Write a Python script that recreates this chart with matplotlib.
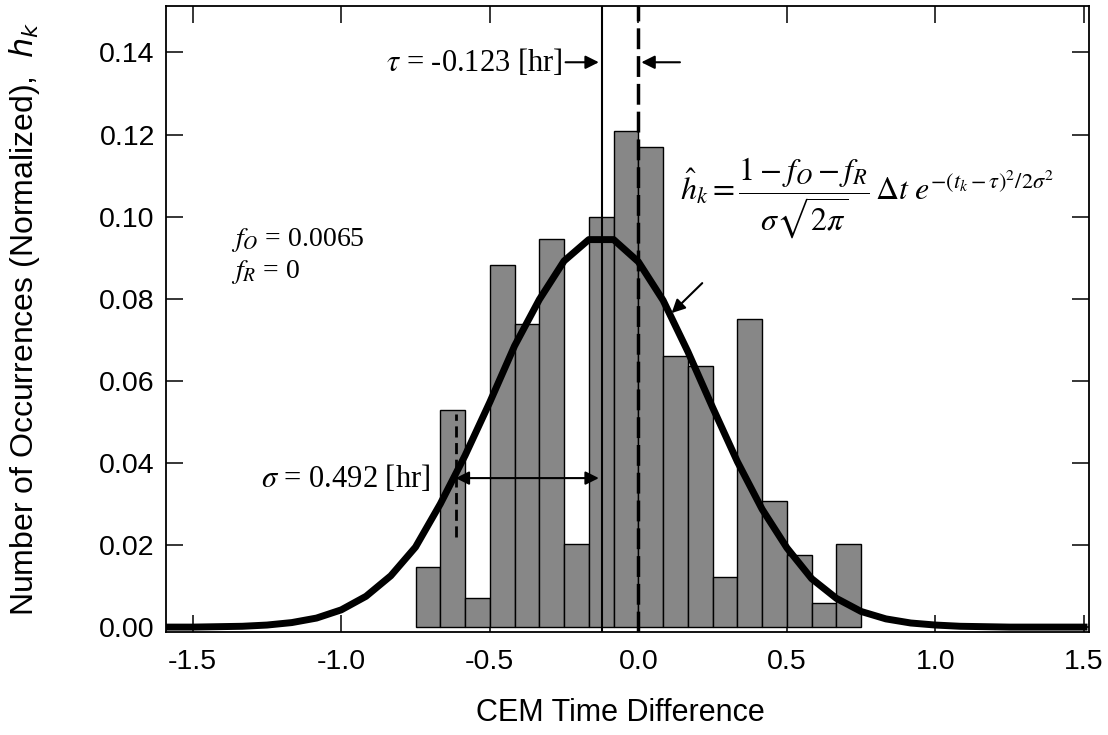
import matplotlib
matplotlib.use('Agg')
import matplotlib.pyplot as plt

# histogram (bin width 5 min = 1/12 hr)
bin_left = [-0.75, -0.6667, -0.5833, -0.5, -0.4167, -0.3333, -0.25, -0.1667, -0.0833,
            0.0, 0.0833, 0.1667, 0.25, 0.3333, 0.4167, 0.5, 0.5833, 0.6667]
bin_width = 0.0833
h_k = [0.0147, 0.0530, 0.0072, 0.0882, 0.0738, 0.0945, 0.0202, 0.0998, 0.1208,
       0.1170, 0.0661, 0.0636, 0.0122, 0.0751, 0.0306, 0.0175, 0.0059, 0.0202]

# fitted curve as drawn (polyline at the bin edges)
fit_t = [-1.5833, -1.5, -1.4167, -1.3333, -1.25, -1.1667, -1.0833, -1.0, -0.9167, -0.8333,
         -0.75, -0.6667, -0.5833, -0.5, -0.4167, -0.3333, -0.25, -0.1667, -0.0833,
         0.0, 0.0833, 0.1667, 0.25, 0.3333, 0.4167, 0.5, 0.5833, 0.6667, 0.75,
         0.8333, 0.9167, 1.0, 1.0833, 1.1667, 1.25, 1.3333, 1.4167, 1.5]
fit_h = [0.0, 0.0, 0.0001, 0.0002, 0.0005, 0.0011, 0.0022, 0.0042, 0.0075, 0.0125,
         0.0195, 0.0300, 0.0418, 0.0548, 0.0685, 0.0798, 0.0892, 0.0944, 0.0944,
         0.0890, 0.0796, 0.0671, 0.0535, 0.0403, 0.0287, 0.0193, 0.0118, 0.0070, 0.0038,
         0.0020, 0.0010, 0.0005, 0.0002, 0.0001, 0.0, 0.0, 0.0, 0.0]

tau = -0.123
sigma_edge = -0.615
xticks = [-1.5, -1.0, -0.5, 0.0, 0.5, 1.0, 1.5]
yticks = [0.00, 0.02, 0.04, 0.06, 0.08, 0.10, 0.12, 0.14]

plt.rcParams['font.family'] = ['Liberation Sans', 'DejaVu Sans']

fig = plt.figure(figsize=(11.08, 7.35), dpi=100)
ax = fig.add_axes([0.1498, 0.1401, 0.8331, 0.8517])

ax.bar(bin_left, h_k, width=bin_width, align='edge', color='#878787',
       edgecolor='black', linewidth=1.0, zorder=2)
ax.plot(fit_t, fit_h, color='black', lw=5, solid_joinstyle='round', zorder=4)

ax.axvline(tau, color='black', lw=1.5, zorder=3)
ax.axvline(0.0, color='black', lw=2.5, ls=(0, (6, 2)), zorder=3)
ax.plot([sigma_edge, sigma_edge], [0.022, 0.052], color='black', lw=2, ls=(0, (4, 2)), zorder=3)

serif = ['Liberation Serif', 'DejaVu Serif']
ap = dict(arrowstyle='-|>', color='black', lw=1.5, mutation_scale=20, shrinkA=0, shrinkB=0)

# tau annotation
ax.text(-0.255, 0.1376, r'$\tau$ = -0.123 [hr]', family=serif, math_fontfamily='stix',
        fontsize=22, ha='right', va='center')
ax.annotate('', xy=(tau - 0.01, 0.1376), xytext=(-0.245, 0.1376), arrowprops=ap)
ax.annotate('', xy=(0.01, 0.1376), xytext=(0.14, 0.1376), arrowprops=ap)

# sigma annotation
ax.text(-0.70, 0.0363, r'$\sigma$ = 0.492 [hr]', family=serif, math_fontfamily='stix',
        fontsize=22, ha='right', va='center')
ax.annotate('', xy=(tau - 0.01, 0.0363), xytext=(sigma_edge, 0.0363),
            arrowprops=dict(arrowstyle='<|-|>', color='black', lw=1.5, mutation_scale=20,
                            shrinkA=0, shrinkB=0))

# outlier fractions
ax.text(-1.37, 0.0942, r'$f_O$ = 0.0065', family=serif, math_fontfamily='stix',
        fontsize=20, ha='left', va='center')
ax.text(-1.37, 0.0864, r'$f_R$ = 0', family=serif, math_fontfamily='stix',
        fontsize=20, ha='left', va='center')

# model formula
ax.text(0.14, 0.1045,
        r'$\hat{h}_k = \dfrac{1 - f_O - f_R}{\sigma\sqrt{2\pi}}\,\Delta t\; e^{-(t_k-\tau)^2/2\sigma^2}$',
        math_fontfamily='stix', fontsize=23, ha='left', va='center')
ax.annotate('', xy=(0.112, 0.0765), xytext=(0.215, 0.0838), arrowprops=ap)

ax.set_xlim(-1.59, 1.517)
ax.set_ylim(-0.0012, 0.1513)
ax.set_xticks(xticks)
ax.set_yticks(yticks)
ax.set_xticklabels([f'{v:.1f}' for v in xticks])
ax.set_yticklabels([f'{v:.2f}' for v in yticks])
ax.tick_params(direction='in', length=12, width=1.1, labelsize=20.5,
               top=True, right=True, pad=8)
ax.tick_params(axis='x', pad=12)
for s in ax.spines.values():
    s.set_linewidth(1.3)

ax.set_xlabel('CEM Time Difference', fontsize=22)
ax.xaxis.set_label_coords(0.492, -0.105)
ax.set_ylabel(r'Number of Occurrences (Normalized),  $h_k$', fontsize=23,
              math_fontfamily='dejavusans', va='center')
ax.yaxis.set_label_coords(-0.153, 0.50)

fig.savefig('out.png', dpi=100)
